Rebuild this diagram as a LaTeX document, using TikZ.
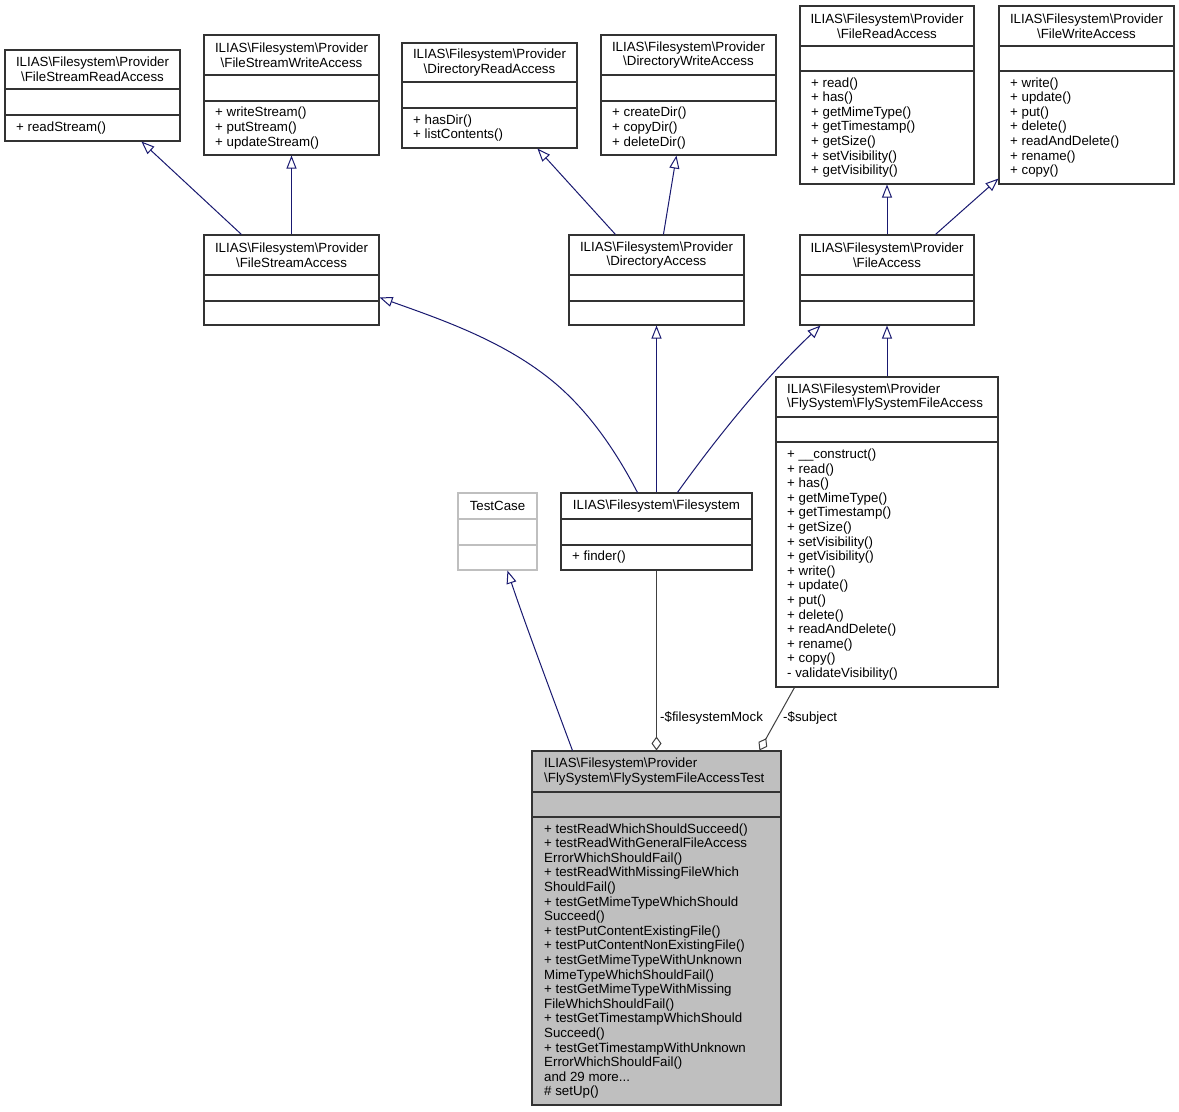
\documentclass[tikz,border=0pt]{standalone}
\usepackage{fontspec}
\setmainfont{Liberation Sans}
\usetikzlibrary{arrows.meta,fit}
\definecolor{edgeblue}{HTML}{191970}
\definecolor{aggray}{HTML}{404040}
\definecolor{boxline}{HTML}{333333}
\definecolor{testfill}{HTML}{BFBFBF}
\definecolor{tcline}{HTML}{BFBFBF}
\newcommand\bs{\textbackslash}
% #1 extra style, #2 name, #3 left, #4 top, #5 right, #6 bottom, #7 sep1, #8 sep2
\newcommand\umlclass[8][]{%
  \node[classbox,#1,fit={(#3,#4) (#5,#6)}] (#2) {};
  \draw[sepline,#1,fill=none] (#3,#7) -- (#5,#7) (#3,#8) -- (#5,#8);
}
\begin{document}
\begin{tikzpicture}[x=1pt,y=-1pt,
  classbox/.style={draw=boxline, line width=1.1pt, inner sep=0pt, rectangle},
  sepline/.style={draw=boxline, line width=1.1pt},
  txt/.style={font=\fontsize{13.3}{14.6}\selectfont, inner sep=0pt, text=black},
  ttl/.style={txt, align=center},
  lttl/.style={txt, align=left, anchor=west},
  meth/.style={txt, align=left, anchor=west},
  gen/.style={draw=edgeblue, line width=1pt, -{Triangle[open,length=13pt,width=10pt]}},
  agg/.style={draw=aggray, line width=1pt, -{Diamond[open,length=14pt,width=10pt]}},
  lbl/.style={txt, anchor=west},
]
\useasboundingbox[fill=white] (0,0) rectangle (1179,1112);

% ---- classes ----
\umlclass{fsra}{5}{50}{180}{141}{89}{115}
\node[ttl] (fsra-t) at (92.5,69.5) {ILIAS\bs Filesystem\bs Provider\\\bs FileStreamReadAccess};
\node[meth] (fsra-m) at (16,128) {+ readStream()};

\umlclass{fswa}{204}{35}{379}{155}{75}{101}
\node[ttl] (fswa-t) at (291.5,55) {ILIAS\bs Filesystem\bs Provider\\\bs FileStreamWriteAccess};
\node[meth] (fswa-m) at (215,128) {+ writeStream()\\+ putStream()\\+ updateStream()};

\umlclass{dra}{402}{43}{577}{148}{82}{108}
\node[ttl] (dra-t) at (489.5,62.5) {ILIAS\bs Filesystem\bs Provider\\\bs DirectoryReadAccess};
\node[meth] (dra-m) at (413,128) {+ hasDir()\\+ listContents()};

\umlclass{dwa}{601}{35}{776}{155}{75}{101}
\node[ttl] (dwa-t) at (688.5,55) {ILIAS\bs Filesystem\bs Provider\\\bs DirectoryWriteAccess};
\node[meth] (dwa-m) at (612,128) {+ createDir()\\+ copyDir()\\+ deleteDir()};

\umlclass{fra}{800}{6}{974}{184}{46}{71}
\node[ttl] (fra-t) at (887,26) {ILIAS\bs Filesystem\bs Provider\\\bs FileReadAccess};
\node[meth] (fra-m) at (811,127.5) {+ read()\\+ has()\\+ getMimeType()\\+ getTimestamp()\\+ getSize()\\+ setVisibility()\\+ getVisibility()};

\umlclass{fwa}{999}{6}{1174}{184}{46}{71}
\node[ttl] (fwa-t) at (1086.5,26) {ILIAS\bs Filesystem\bs Provider\\\bs FileWriteAccess};
\node[meth] (fwa-m) at (1010,127.5) {+ write()\\+ update()\\+ put()\\+ delete()\\+ readAndDelete()\\+ rename()\\+ copy()};

\umlclass{fsa}{204}{235}{379}{325}{275}{301}
\node[ttl] (fsa-t) at (291.5,255) {ILIAS\bs Filesystem\bs Provider\\\bs FileStreamAccess};

\umlclass{da}{569}{235}{744}{325}{275}{301}
\node[ttl] (da-t) at (656.5,255) {ILIAS\bs Filesystem\bs Provider\\\bs DirectoryAccess};

\umlclass{fa}{800}{235}{974}{325}{275}{301}
\node[ttl] (fa-t) at (887,255) {ILIAS\bs Filesystem\bs Provider\\\bs FileAccess};

\umlclass[draw=tcline]{tc}{458}{493}{537}{570}{519}{545}
\node[ttl] (tc-t) at (497.5,506) {TestCase};

\umlclass{fs}{561}{493}{752}{570}{519}{545}
\node[ttl] (fs-t) at (656.5,506) {ILIAS\bs Filesystem\bs Filesystem};
\node[meth] (fs-m) at (572,557.5) {+ finder()};

\umlclass{fsfa}{776}{377}{998}{687}{417}{442}
\node[lttl] (fsfa-t) at (787,397) {ILIAS\bs Filesystem\bs Provider\\\bs FlySystem\bs FlySystemFileAccess};
\node[meth] (fsfa-m) at (787,564.5) {+ \_\_construct()\\+ read()\\+ has()\\+ getMimeType()\\+ getTimestamp()\\+ getSize()\\+ setVisibility()\\+ getVisibility()\\+ write()\\+ update()\\+ put()\\+ delete()\\+ readAndDelete()\\+ rename()\\+ copy()\\- validateVisibility()};

\umlclass[fill=testfill]{test}{532}{751}{781}{1105}{792}{817}
\node[lttl] (test-t) at (544,771.5) {ILIAS\bs Filesystem\bs Provider\\\bs FlySystem\bs FlySystemFileAccessTest};
\node[meth] (test-m) at (544,961) {+ testReadWhichShouldSucceed()\\+ testReadWithGeneralFileAccess\\ErrorWhichShouldFail()\\+ testReadWithMissingFileWhich\\ShouldFail()\\+ testGetMimeTypeWhichShould\\Succeed()\\+ testPutContentExistingFile()\\+ testPutContentNonExistingFile()\\+ testGetMimeTypeWithUnknown\\MimeTypeWhichShouldFail()\\+ testGetMimeTypeWithMissing\\FileWhichShouldFail()\\+ testGetTimestampWhichShould\\Succeed()\\+ testGetTimestampWithUnknown\\ErrorWhichShouldFail()\\and 29 more...\\\# setUp()};

% ---- generalizations ----
\draw[gen] ([xshift=38pt]fsa.north west) -- ([xshift=137pt]fsra.south west);
\draw[gen] (fsa.north) -- (fswa.south);
\draw[gen] ([xshift=47pt]da.north west) -- ([xshift=136pt]dra.south west);
\draw[gen] ([xshift=95pt]da.north west) -- ([xshift=76pt]dwa.south west);
\draw[gen] (fa.north) -- (fra.south);
\draw[gen] ([xshift=136pt]fa.north west) -- ([yshift=6pt]fwa.south west);
\draw[gen] ([xshift=77pt]fs.north west) .. controls (615.6,450.5) and (587.5,409) .. (550,379)
  .. controls (500.8,339.6) and (439,318.7) .. ([yshift=-63pt]fsa.north east);
\draw[gen] (fs.north) -- (da.south);
\draw[gen] ([xshift=117pt]fs.north west) .. controls (720,433) and (768,375) .. ([xshift=21pt]fa.south west);
\draw[gen] (fsfa.north) -- (fa.south);
\draw[gen] ([xshift=41pt]test.north west) .. controls (550,690) and (522,615) .. ([xshift=50pt]tc.south west);

% ---- aggregations ----
\draw[agg] (fs.south) -- (test.north -| fs.south);
\node[lbl] (l-fsm) at (660,718) {-\$filesystemMock};
\draw[agg] ([xshift=19pt]fsfa.south west) -- ([xshift=228pt]test.north west);
\node[lbl] (l-sub) at (783,718) {-\$subject};
\end{tikzpicture}
\end{document}
